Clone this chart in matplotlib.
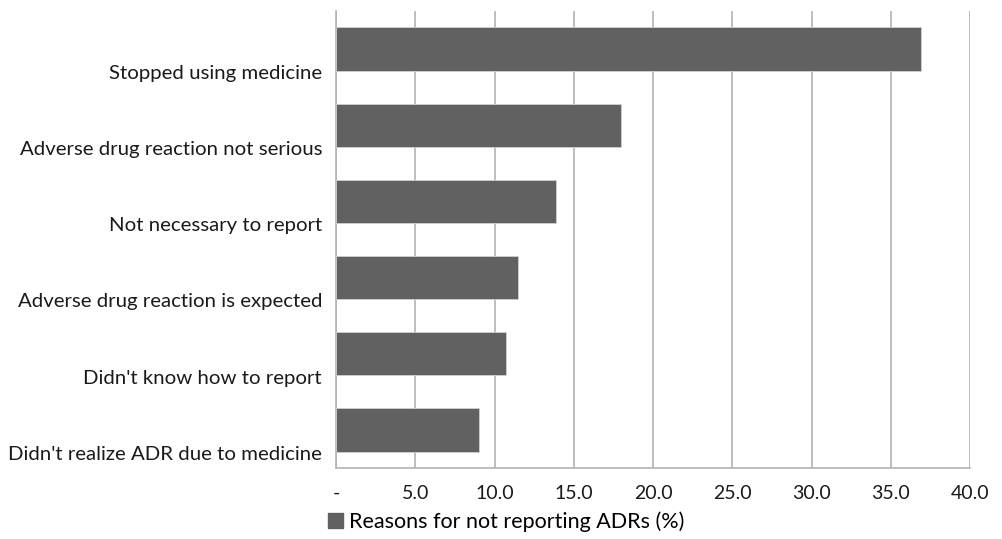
import matplotlib
matplotlib.use("Agg")
import matplotlib.pyplot as plt
from matplotlib.patches import Patch

categories = ["Stopped using medicine", "Adverse drug reaction not serious",
              "Not necessary to report", "Adverse drug reaction is expected",
              "Didn't know how to report", "Didn't realize ADR due to medicine"]
values = [36.9, 18.0, 13.9, 11.5, 10.7, 9.0]
xticks = [0, 5, 10, 15, 20, 25, 30, 35, 40]
xticklabels = ["-", "5.0", "10.0", "15.0", "20.0", "25.0", "30.0", "35.0", "40.0"]
series_name = "Reasons for not reporting ADRs (%)"

plt.rcParams['font.family'] = ['Lato', 'DejaVu Sans']
fig = plt.figure(figsize=(10.03, 5.39), dpi=100)
ax = fig.add_axes([336/1003, 1-468/539, (970-336)/1003, (468-11)/539])

bar_color = "#616161"
y = list(range(len(categories)))
ax.barh(y, values, height=0.57, color=bar_color, edgecolor="#d0d0d0", linewidth=0.6, zorder=3)
ax.set_ylim(len(categories)-0.5, -0.5)
ax.set_xlim(0, 40)
# category labels sit slightly below the bar centres, as in the reference
label_offset = 0.3
ax.set_yticks([v + label_offset for v in y])
ax.set_yticklabels(categories, fontsize=14.7, color="#1a1a1a")
ax.set_xticks(xticks)
ax.set_xticklabels(xticklabels, fontsize=14, color="#1a1a1a")
ax.tick_params(axis='x', length=0, pad=12)
ax.tick_params(axis='y', length=0, pad=10)
ax.grid(axis='x', color="#b3b3b3", linewidth=1.2, zorder=0)
for s in ["top", "right"]:
    ax.spines[s].set_visible(False)
ax.spines["left"].set_color("#b3b3b3")
ax.spines["left"].set_linewidth(1.2)
ax.spines["bottom"].set_color("#b3b3b3")
ax.spines["bottom"].set_linewidth(1.2)

handle = Patch(facecolor=bar_color, edgecolor=bar_color)
fig.legend([handle], [series_name], loc="center", bbox_to_anchor=(506/1003, 1-522/539),
           frameon=False, fontsize=15.5, handlelength=0.7, handleheight=0.7, handletextpad=0.25)

fig.savefig("out.png", dpi=100, facecolor="white")
